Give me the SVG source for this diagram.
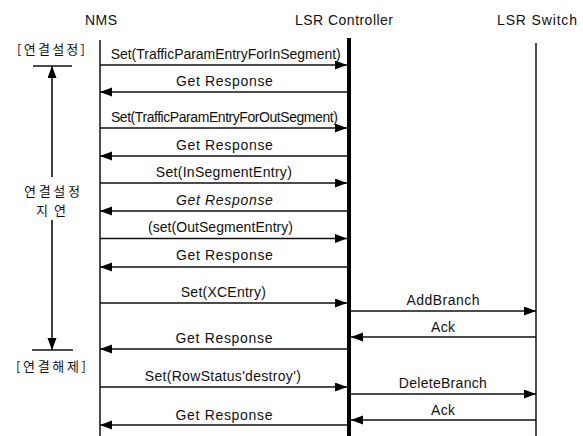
<svg xmlns="http://www.w3.org/2000/svg" width="583" height="436" viewBox="0 0 583 436">
  <style>
    .hdr { font-family: "Liberation Sans", Arial, sans-serif; font-size: 14px; fill: #111; text-anchor: middle; }
    .msg { font-family: "Liberation Sans", Arial, sans-serif; font-size: 14px; fill: #111; text-anchor: middle; }
    .kr { font-family: "Noto Sans CJK KR", "Noto Sans", sans-serif; font-size: 13px; fill: #111; text-anchor: middle; }
    .life { stroke: #111; stroke-width: 1.5; fill: none; }
    .ctrl { stroke: #000; stroke-width: 4; fill: none; }
    .arr { stroke: #111; stroke-width: 1.6; fill: none; marker-end: url(#ah); }
    .bar { stroke: #111; stroke-width: 1.5; fill: none; }
  </style>
  <defs>
    <marker id="ah" markerUnits="userSpaceOnUse" markerWidth="13" markerHeight="10" refX="12" refY="4.5" orient="auto">
      <path d="M0,0 L12,4.5 L0,9 Z" fill="#000"/>
    </marker>
  </defs>
  <rect width="583" height="436" fill="#fff"/>

  <g id="nms">
    <text class="hdr" x="101" y="25" textLength="32">NMS</text>
    <line class="life" x1="100" y1="40" x2="100" y2="436"/>
  </g>
  <g id="lsr-controller">
    <text class="hdr" x="344" y="25" textLength="98">LSR Controller</text>
    <line class="ctrl" x1="349" y1="38" x2="349" y2="436"/>
  </g>
  <g id="lsr-switch">
    <text class="hdr" x="537" y="25" textLength="80">LSR Switch</text>
    <line class="life" x1="536" y1="43" x2="536" y2="436"/>
  </g>

  <g id="delay-annotation">
    <text class="kr" x="51" y="54" textLength="68">[연결설정]</text>
    <line class="bar" x1="33" y1="66" x2="72" y2="66"/>
    <text class="kr" x="52" y="196" textLength="56">연결설정</text>
    <text class="kr" x="51" y="215" textLength="30">지연</text>
    <line class="bar" x1="32" y1="350" x2="73" y2="350"/>
    <text class="kr" x="51" y="371" textLength="70">[연결해제]</text>
  </g>

  <g id="connectors">
    <line class="arr" x1="52" y1="177" x2="52" y2="66"/>
    <line class="arr" x1="52" y1="220" x2="52" y2="350"/>

    <line class="arr" x1="100" y1="65" x2="347" y2="65"/>
    <line class="arr" x1="347" y1="92" x2="100" y2="92"/>
    <line class="arr" x1="100" y1="128" x2="347" y2="128"/>
    <line class="arr" x1="347" y1="156" x2="100" y2="156"/>
    <line class="arr" x1="100" y1="183" x2="347" y2="183"/>
    <line class="arr" x1="347" y1="211" x2="100" y2="211"/>
    <line class="arr" x1="100" y1="238.5" x2="347" y2="238.5"/>
    <line class="arr" x1="347" y1="267" x2="100" y2="267"/>
    <line class="arr" x1="100" y1="303" x2="347" y2="303"/>
    <line class="arr" x1="351" y1="311" x2="536" y2="311"/>
    <line class="arr" x1="536" y1="337" x2="351" y2="337"/>
    <line class="arr" x1="347" y1="349" x2="100" y2="349"/>
    <line class="arr" x1="100" y1="387" x2="347" y2="387"/>
    <line class="arr" x1="351" y1="394" x2="536" y2="394"/>
    <line class="arr" x1="536" y1="420" x2="351" y2="420"/>
    <line class="arr" x1="347" y1="425" x2="100" y2="425"/>

    <text class="msg" x="225.7" y="59" textLength="230">Set(TrafficParamEntryForInSegment)</text>
    <text class="msg" x="224.4" y="86" textLength="97">Get Response</text>
    <text class="msg" x="224.4" y="122" textLength="227">Set(TrafficParamEntryForOutSegment)</text>
    <text class="msg" x="224.4" y="150" textLength="97">Get Response</text>
    <text class="msg" x="223.8" y="177" textLength="136">Set(InSegmentEntry)</text>
    <text class="msg" x="224.4" y="204.5" textLength="97" font-style="italic">Get Response</text>
    <text class="msg" x="220.5" y="232" textLength="145">(set(OutSegmentEntry)</text>
    <text class="msg" x="224.4" y="259.5" textLength="97">Get Response</text>
    <text class="msg" x="223.3" y="297" textLength="85">Set(XCEntry)</text>
    <text class="msg" x="443" y="305" textLength="73">AddBranch</text>
    <text class="msg" x="443" y="332" textLength="24">Ack</text>
    <text class="msg" x="224" y="343" textLength="97">Get Response</text>
    <text class="msg" x="222.8" y="380.5" textLength="156">Set(RowStatus'destroy')</text>
    <text class="msg" x="442.8" y="388" textLength="88">DeleteBranch</text>
    <text class="msg" x="443" y="414.5" textLength="24">Ack</text>
    <text class="msg" x="224" y="419.5" textLength="97">Get Response</text>
  </g>
</svg>
